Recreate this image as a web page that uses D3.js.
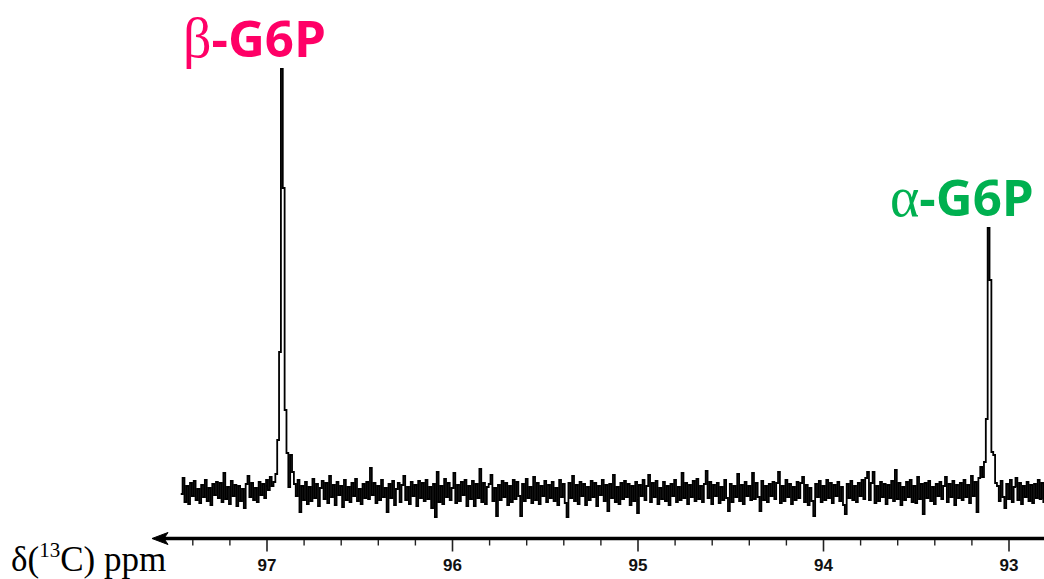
<!DOCTYPE html>
<html>
<head>
<meta charset="utf-8">
<script src="https://cdn.jsdelivr.net/npm/d3@7"></script>
<style>
  html, body { margin: 0; padding: 0; background: #fff; }
  svg { display: block; }
</style>
</head>
<body>
<svg id="chart" width="1044" height="579"></svg>
<script>
// ---- data ----
const majorTicks = [97, 96, 95, 94, 93];
const tickLabels = ["97", "96", "95", "94", "93"];
const minorTicks = [97.4, 97.2, 96.8, 96.6, 96.4, 96.2, 95.8, 95.6, 95.4, 95.2,
                    94.8, 94.6, 94.4, 94.2, 93.8, 93.6, 93.4, 93.2];
const ppmStart = 97.465;   // first point of spectrum (ppm)
const ppmStep = 0.01;      // spacing between points (ppm)
const peakLabels = [
  {greek: "β", name: "-G6P", ppm: 96.925, value: 423, color: "#FF0066"},
  {greek: "α", name: "-G6P", ppm: 93.115, value: 264, color: "#00B050"}
];
// intensities (arbitrary units, baseline = 0)
const intensity = [
  -2, 14, -10, 6, -12, 9, -4, 11, -8, 3,
  -11, 7, -5, 12, -9, 4, -13, 8, -3, 10,
  -6, 9, -10, 19, -7, 5, -12, 11, -4, 7,
  -14, 6, -9, 3, -16, 8, 16, -5, 9, -8,
  4, -10, 10, -3, 8, -6, 12, 2, 15, 6,
  10, 18, 52, 140, 423, 304, 82, 39, 5, 37,
  20, 8, -4, 12, -20, 6, -8, 10, -12, 5,
  -9, 13, -6, 8, -14, 4, 11, -7, 9, -11,
  16, -5, 7, -13, 10, -3, 6, -15, 12, -8,
  5, -10, 9, -4, 13, -9, 3, -12, 8, -6,
  10, -7, 24, -3, 9, -11, 6, -8, 12, -5,
  4, -20, 8, -6, 11, -13, 3, 9, -10, 7,
  16, -8, 5, -12, 10, -4, 7, -14, 11, -6,
  9, -9, 12, -7, 5, -16, 8, -25, 20, -10,
  6, -12, 13, -5, 9, -8, 4, 19, -11, 7,
  -9, 10, -3, 12, -14, 6, -7, 11, -14, 8,
  -6, 23, -10, 9, -12, 5, 8, 17, -9, 4,
  -24, 7, -8, 11, -5, 9, -13, 6, -10, 12,
  -7, 10, -4, -24, 8, -9, 13, -6, 5, -11,
  15, -8, 9, -12, 6, -4, 11, -10, 7, -6,
  10, -9, 4, -13, 12, -5, 8, -11, -25, 9,
  -6, 16, -9, 7, -12, 10, -4, 8, -13, 5,
  -8, 11, -5, 9, -14, 6, -3, 12, -9, 7,
  -19, 8, -6, 17, -10, 5, -12, 9, -7, 11,
  -5, 8, -13, 6, -9, 10, -21, 7, -4, 12,
  -8, 6, 17, -10, 9, -5, 11, -12, 4, -7,
  10, -9, 6, -13, 8, -4, 12, -10, 5, -8,
  19, -6, 9, -12, 7, -5, 11, -9, 13, -7,
  6, -10, 8, 21, -6, 10, -12, 7, -4, 9,
  -11, 5, -8, 12, -6, -19, 8, -10, 6, -5,
  18, -9, 7, -12, 10, -4, 6, -8, 19, -7,
  9, -5, -19, 11, -8, 6, -10, 8, -4, 10,
  -7, 9, 20, -11, 6, -9, 12, -5, 8, -12,
  5, -8, 10, -6, 9, 15, -10, 7, -13, 4,
  -9, -24, 8, -5, 11, -10, 6, -8, 12, -6,
  9, -11, 7, -4, 10, -9, 5, -13, -22, 8,
  -6, 11, -8, 6, -10, 9, -4, 12, -7, 14,
  20, -8, 9, 20, -11, 6, -9, 10, -5, 8,
  -12, 7, -6, 11, -9, 22, -7, 9, -13, 5,
  -8, 10, -5, 12, -10, 6, -11, 15, -7, 8,
  -22, 9, -6, 11, -9, 5, -12, 8, -4, 10,
  -7, 6, 15, -10, 8, -5, 11, -13, 7, -6,
  9, -8, 12, -5, 7, -11, 16, -4, 10, -20,
  14, 25, 15, 30, 73, 264, 212, 40, 37, 9,
  6, -9, 11, -5, -16, 8, -7, 12, -10, 5,
  14, -8, 9, -12, 6, -5, 10, -9, 7, -11,
  8, -6, 12, -7, 9, -10, 5
];
const axisStartPpm = 97.62;
const axisEndPpm = 92.81;
const axisTitle = {main: "δ(", sup: "13", rest: "C) ppm"};

// ---- drawing ----
const svg = d3.select("#chart");
const x = d3.scaleLinear().domain([97, 93]).range([267, 1009]);
const y = d3.scaleLinear().domain([0, 423]).range([492, 69]);

const points = intensity.map((v, i) => [ppmStart - i * ppmStep, v]);

svg.append("path")
  .datum(points)
  .attr("fill", "none")
  .attr("stroke", "#000")
  .attr("stroke-width", 1.8)
  .attr("stroke-linejoin", "miter")
  .attr("d", d3.line().x(d => x(d[0])).y(d => y(d[1])).curve(d3.curveStepAfter));

// axis
const axisY = 538.5;
const g = svg.append("g");
const x0 = x(axisStartPpm), x1 = x(axisEndPpm);
g.append("line")
  .attr("x1", x0 + 8).attr("x2", x1 + 2)
  .attr("y1", axisY).attr("y2", axisY)
  .attr("stroke", "#000").attr("stroke-width", 3.6);
g.append("path")
  .attr("d", `M${x0},${axisY} L${x0 + 16},${axisY - 6} L${x0 + 12},${axisY} L${x0 + 16},${axisY + 6} Z`)
  .attr("fill", "#000").attr("stroke", "#000").attr("stroke-width", 1);

g.selectAll(".minor").data(minorTicks).enter().append("line")
  .attr("x1", d => x(d)).attr("x2", d => x(d))
  .attr("y1", axisY + 1.5).attr("y2", axisY + 7)
  .attr("stroke", "#222").attr("stroke-width", 1.4);
g.selectAll(".major").data(majorTicks).enter().append("line")
  .attr("x1", d => x(d)).attr("x2", d => x(d))
  .attr("y1", axisY + 1.5).attr("y2", axisY + 13)
  .attr("stroke", "#222").attr("stroke-width", 1.6);
g.selectAll(".tl").data(majorTicks).enter().append("text")
  .attr("x", d => x(d)).attr("y", 571)
  .attr("text-anchor", "middle")
  .attr("font-family", "'Liberation Sans', Arial, sans-serif")
  .attr("font-weight", "bold")
  .attr("font-size", 17)
  .attr("fill", "#111")
  .text((d, i) => tickLabels[i]);

const t = svg.append("text")
  .attr("x", 11).attr("y", 571)
  .attr("font-family", "'Liberation Serif', 'Times New Roman', serif")
  .attr("font-size", 35)
  .attr("fill", "#000");
t.append("tspan").text(axisTitle.main);
t.append("tspan").attr("font-size", 21).attr("dy", -14).text(axisTitle.sup);
t.append("tspan").attr("dy", 14).text(axisTitle.rest);

// peak labels
peakLabels.forEach((p, i) => {
  const lx = i === 0 ? 183 : 890;
  const ly = y(p.value) - 12;
  const tt = svg.append("text")
    .attr("x", lx).attr("y", ly)
    .attr("fill", p.color)
    .attr("font-size", 51);
  tt.append("tspan")
    .attr("font-family", "'Liberation Serif', 'Times New Roman', serif")
    .attr("font-size", 56)
    .text(p.greek);
  tt.append("tspan")
    .attr("font-family", "'Open Sans', 'Noto Sans', sans-serif")
    .attr("font-weight", "bold")
    .text(p.name);
});
</script>
</body>
</html>
